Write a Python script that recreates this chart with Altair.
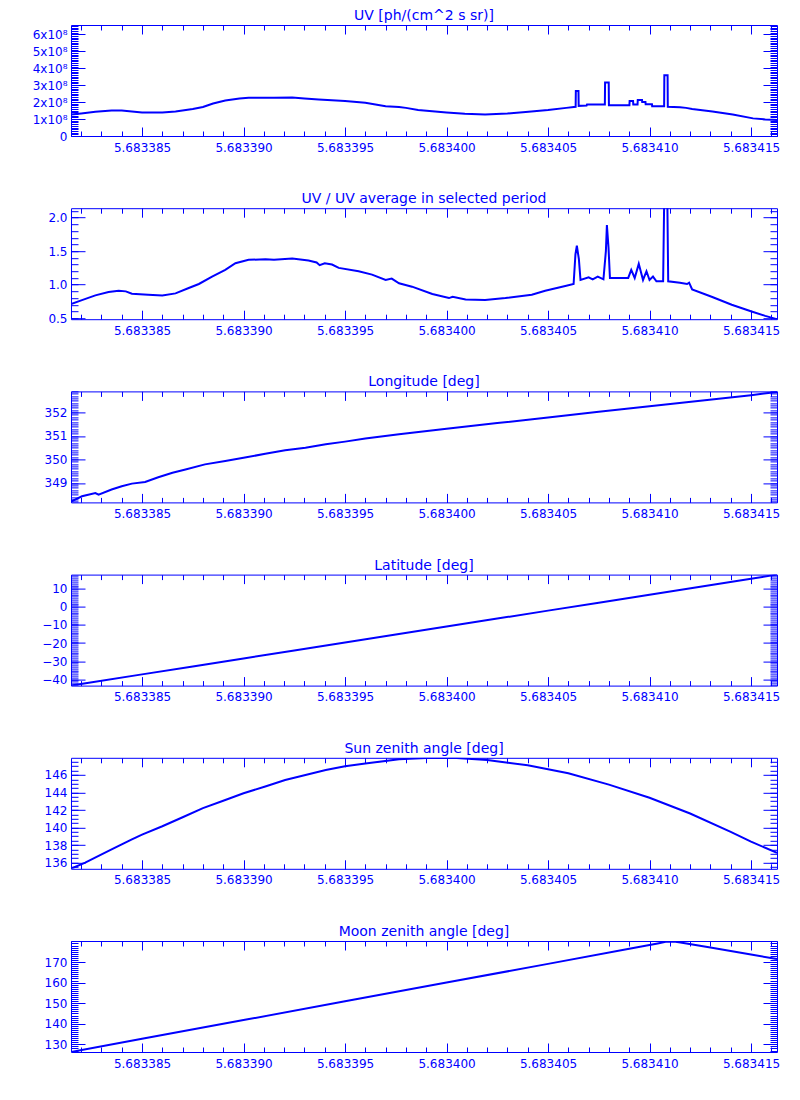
import altair as alt
import pandas as pd

BLUE = "#0000ff"
FONT = "DejaVu Sans"

# ---- time axis (values are 5.68338 + t * 1e-6) ----
X0 = 5.68338
X_DOMAIN = [5.6833815, 5.68341628]
x_major = [5.683385, 5.683390, 5.683395, 5.683400, 5.683405, 5.683410, 5.683415]
x_minor = [round(5.683382 + i * 1e-6, 7) for i in range(35)]
x_minor = [v for v in x_minor if X_DOMAIN[0] <= v <= X_DOMAIN[1]]

# ---- UV [1e8 ph/(cm^2 s sr)] ----
uv_t = [1.5, 2.0, 2.7, 3.5, 4.0, 5.0, 6.0, 6.65, 7.5, 8.0, 8.5, 9.1, 9.8, 10.25,
        11.5, 12.4, 13.0, 13.7, 15.0, 16.0, 17.0, 17.66, 18.0, 18.6, 20.0, 20.9,
        21.9, 23.0, 23.9, 25.0, 25.9, 26.36, 26.37, 26.5, 26.51, 26.9, 26.92,
        27.8, 27.81, 27.99, 28.0, 29.01, 29.02, 29.19, 29.2, 29.41, 29.42, 29.63,
        29.64, 29.8, 29.81, 30.12, 30.13, 30.72, 30.73, 30.89, 30.9, 31.5, 31.8,
        32.1, 33.1, 34.1, 35.1, 35.7, 36.05, 36.28]
uv_v = [1.27, 1.33, 1.43, 1.50, 1.50, 1.39, 1.39, 1.45, 1.59, 1.71, 1.92, 2.09,
        2.21, 2.25, 2.26, 2.27, 2.21, 2.15, 2.06, 1.96, 1.76, 1.71, 1.66, 1.53,
        1.39, 1.31, 1.27, 1.33, 1.41, 1.53, 1.66, 1.72, 2.65, 2.65, 1.78, 1.80,
        1.86, 1.86, 3.15, 3.15, 1.82, 1.82, 2.06, 2.06, 1.86, 1.86, 2.12, 2.12,
        2.00, 2.00, 1.88, 1.88, 1.75, 1.75, 3.59, 3.59, 1.72, 1.70, 1.66, 1.59,
        1.45, 1.27, 1.04, 0.98, 0.96, 0.95]

# ---- UV / UV average ----
ratio_t = [1.5, 2.04, 2.7, 3.35, 3.85, 4.2, 4.5, 5.3, 6.0, 6.65, 7.3, 7.8, 8.45,
           9.1, 9.6, 10.25, 11.08, 11.5, 12.4, 13.2, 13.6, 13.75, 14.0, 14.36,
           14.69, 15.67, 16.33, 17.0, 17.3, 17.66, 18.3, 19.3, 20.12, 20.3, 20.94,
           21.9, 22.9, 24.2, 24.86, 25.85, 26.26, 26.35, 26.42, 26.52, 26.6, 27.0,
           27.2, 27.45, 27.73, 27.85, 27.9, 27.98, 28.05, 28.95, 29.1, 29.27,
           29.47, 29.68, 29.85, 30.0, 30.17, 30.34, 30.67, 30.72, 30.88, 30.92,
           31.5, 31.85, 31.95, 32.1, 33.06, 34.05, 35.03, 35.7, 36.28]
ratio_v = [0.71, 0.77, 0.84, 0.89, 0.91, 0.90, 0.865, 0.85, 0.84, 0.87, 0.95,
           1.01, 1.12, 1.22, 1.32, 1.37, 1.38, 1.37, 1.39, 1.36, 1.33, 1.29, 1.32,
           1.30, 1.25, 1.20, 1.15, 1.07, 1.09, 1.02, 0.97, 0.86, 0.80, 0.82, 0.78,
           0.77, 0.80, 0.85, 0.91, 0.98, 1.01, 1.45, 1.58, 1.38, 1.07, 1.11, 1.08,
           1.12, 1.08, 1.50, 1.89, 1.55, 1.10, 1.10, 1.22, 1.10, 1.31, 1.07, 1.20,
           1.07, 1.12, 1.05, 1.05, 2.20, 2.20, 1.05, 1.03, 1.01, 1.03, 0.93, 0.82,
           0.70, 0.60, 0.535, 0.485]

# ---- Longitude ----
lon_t = [1.5, 2.04, 2.7, 2.86, 3.5, 4.0, 4.5, 5.15, 5.8, 6.5, 7.14, 8.1, 9.1,
         10.0, 11.07, 12.05, 13.05, 14.05, 15.0, 16.0, 17.66, 20.0, 22.5, 25.0,
         27.5, 30.0, 32.5, 35.0, 36.28]
lon_v = [348.20, 348.43, 348.57, 348.50, 348.72, 348.86, 348.97, 349.04, 349.24,
         349.43, 349.57, 349.79, 349.93, 350.07, 350.24, 350.39, 350.50, 350.65,
         350.76, 350.89, 351.07, 351.31, 351.55, 351.79, 352.03, 352.27, 352.50,
         352.74, 352.88]

# ---- Latitude ----
lat_t = [1.5, 5.0, 7.5, 10.0, 12.5, 15.0, 17.5, 20.0, 22.5, 25.0, 27.5, 30.0,
         32.5, 35.0, 36.28]
lat_v = [-43.5, -37.3, -32.9, -28.5, -24.1, -19.7, -15.3, -10.9, -6.5, -2.1,
         2.3, 6.7, 11.1, 15.5, 17.8]

# ---- Sun zenith angle ----
sun_t = [1.5, 2.2, 2.86, 3.5, 4.5, 5.0, 6.0, 7.0, 8.0, 9.0, 10.0, 11.07, 12.05,
         13.05, 14.05, 15.0, 16.0, 17.66, 19.0, 19.7, 20.5, 22.0, 24.0, 26.0,
         28.0, 30.0, 32.0, 34.0, 35.0, 36.28]
sun_v = [135.3, 136.0, 136.76, 137.5, 138.65, 139.2, 140.15, 141.17, 142.22,
         143.06, 143.92, 144.68, 145.43, 146.0, 146.57, 147.0, 147.3, 147.8,
         147.94, 147.96, 147.93, 147.7, 147.1, 146.2, 144.9, 143.4, 141.6, 139.5,
         138.4, 137.1]

# ---- Moon zenith angle ----
moon_t = [1.5, 5.0, 10.0, 15.0, 20.0, 25.0, 29.0, 30.4, 30.8, 31.2, 31.6, 33.0,
          35.0, 36.28]
moon_v = [126.3, 132.7, 141.8, 150.9, 160.0, 169.1, 176.4, 179.0, 179.8, 179.9,
          179.4, 177.0, 173.6, 171.4]


def frange(a, b, step, nd=4):
    out, n = [], 0
    while True:
        v = round(a + n * step, nd)
        if v > b + 1e-9:
            break
        out.append(v)
        n += 1
    return out


def panel(title, t, v, ydomain, ymajor, yminor, label_expr=None, fmt=None):
    df = pd.DataFrame({"x": [X0 + ti * 1e-6 for ti in t], "y": v})
    xs = alt.Scale(domain=X_DOMAIN, nice=False, zero=False)
    ys = alt.Scale(domain=ydomain, nice=False, zero=False)
    yminor = [m for m in yminor if ydomain[0] <= m <= ydomain[1]]
    common = dict(domain=False, grid=False, title=None, tickColor=BLUE,
                  tickWidth=1, labelColor=BLUE, labelFont=FONT, labelFontSize=12)

    def ax(orient, values, size, labels=False, **kw):
        return alt.Axis(orient=orient, values=values, tickSize=size, offset=-size,
                        labels=labels, **common, **kw)

    yl_kw = dict(labelPadding=4, labelFlush=False, labelOverlap=False)
    if label_expr:
        yl_kw["labelExpr"] = label_expr
    if fmt:
        yl_kw["format"] = fmt

    axes = [
        (ax("bottom", x_major, 9, True, format=".6f", labelPadding=6,
            labelFlush=False, labelOverlap=False),
         ax("left", ymajor, 14, True, **yl_kw), True),
        (ax("bottom", x_minor, 5), ax("left", yminor, 7), False),
        (ax("top", x_major, 9), ax("right", ymajor, 14), False),
        (ax("top", x_minor, 5), ax("right", yminor, 7), False),
    ]
    layers = []
    for xa, ya, vis in axes:
        layers.append(
            alt.Chart(df).mark_line(
                color=BLUE, strokeWidth=2, clip=True, opacity=1 if vis else 0
            ).encode(
                x=alt.X("x:Q", scale=xs, axis=xa),
                y=alt.Y("y:Q", scale=ys, axis=ya),
            )
        )
    return alt.layer(*layers).resolve_axis(x="independent", y="independent").properties(
        width=706, height=111,
        title=alt.TitleParams(title, color=BLUE, font=FONT, fontSize=14,
                              fontWeight="normal", offset=1.5, anchor="middle"),
    )


p1 = panel("UV [ph/(cm^2 s sr)]", uv_t, uv_v, [0, 6.55],
           [0, 1, 2, 3, 4, 5, 6], frange(0, 6.6, 0.1),
           label_expr="datum.value == 0 ? '0' : datum.value + 'x10\u2078'")
p2 = panel("UV / UV average in selected period", ratio_t, ratio_v, [0.485, 2.14],
           [0.5, 1.0, 1.5, 2.0], frange(0.5, 2.2, 0.1), fmt=".1f")
p3 = panel("Longitude [deg]", lon_t, lon_v, [348.17, 352.9],
           [349, 350, 351, 352], frange(348.2, 352.9, 0.1), fmt="d")
p4 = panel("Latitude [deg]", lat_t, lat_v, [-43.5, 17.8],
           [-40, -30, -20, -10, 0, 10], frange(-43, 17, 1), fmt="d")
p5 = panel("Sun zenith angle [deg]", sun_t, sun_v, [135.29, 147.96],
           [136, 138, 140, 142, 144, 146], frange(135.5, 147.5, 0.5), fmt="d")
p6 = panel("Moon zenith angle [deg]", moon_t, moon_v, [126.3, 180.2],
           [130, 140, 150, 160, 170], frange(127, 180, 1), fmt="d")

chart = alt.vconcat(p1, p2, p3, p4, p5, p6, spacing=72.2, bounds="flush").properties(
    padding={"left": 23, "top": 0, "right": 5, "bottom": 5},
    background="white",
).configure_view(stroke=BLUE, strokeWidth=1)

chart.save("out.html", embed_options={"renderer": "svg", "actions": False})
